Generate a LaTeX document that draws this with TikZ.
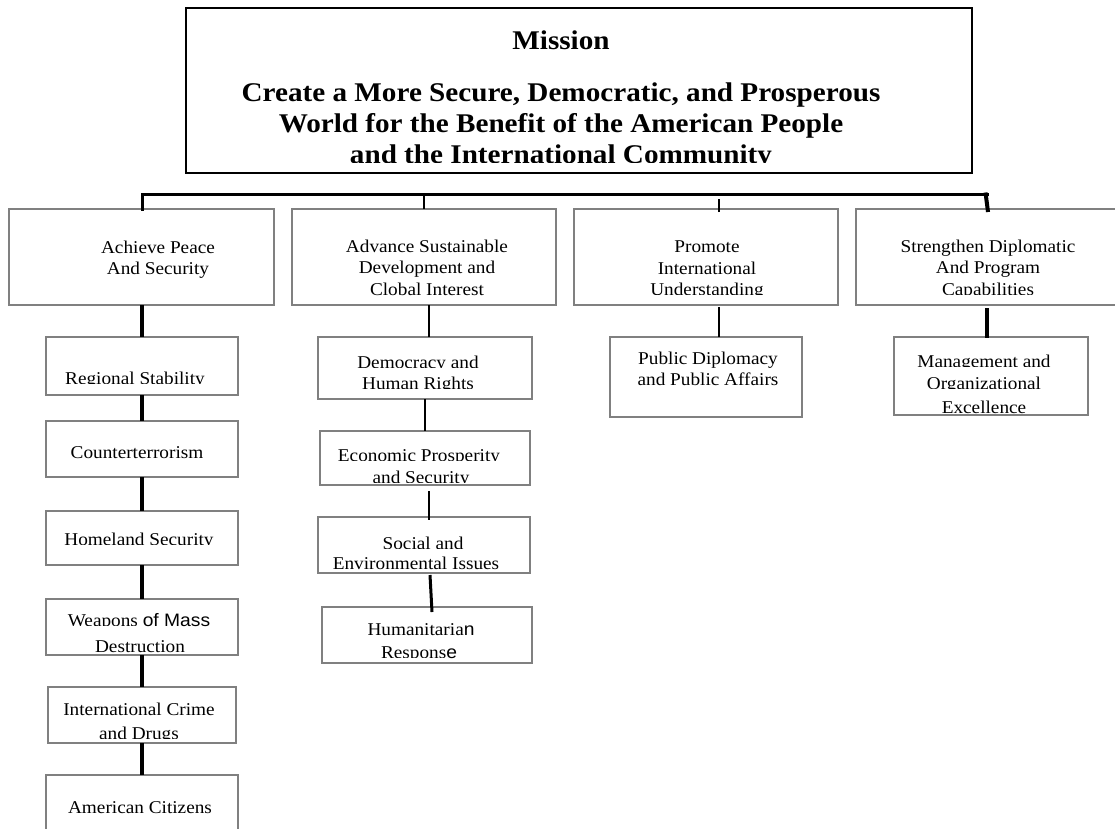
\documentclass[tikz,border=0pt]{standalone}
\usepackage{fontspec}
\setmainfont{Liberation Serif}
\newfontfamily\bodyfont[FakeStretch=1.07]{Liberation Serif}
\newfontfamily\titlefont[FakeStretch=1.08]{Liberation Serif}
\newfontfamily\sansbit[FakeStretch=1.07]{Liberation Sans}
\usetikzlibrary{calc}
\newcommand\cutd[1]{\setbox0\hbox{#1}\rlap{\copy0}{\color{white}\rule[-0.3em]{\wd0}{0.3em}}}
\newcount\lnc
\newcommand\Ln[3]{\global\advance\lnc by 1\relax\node[txt] (ln\the\lnc) at (#1,#2) {#3};}
\newcommand\Tl[3]{\global\advance\lnc by 1\relax\node[ttl] (ln\the\lnc) at (#1,#2) {#3};}
\definecolor{boxgray}{RGB}{128,128,128}
\tikzset{
  box/.style={draw=boxgray,line width=1.6pt,inner sep=0pt,outer sep=0pt},
  txt/.style={inner sep=0pt,anchor=base,font=\bodyfont\fontsize{18}{21}\selectfont},
  ttl/.style={inner sep=0pt,anchor=base,font=\titlefont\bfseries\fontsize{27}{32}\selectfont},
  bus/.style={line width=3pt,line cap=rect},
  cthick/.style={line width=4pt},
  cmid/.style={line width=2.5pt},
  tick/.style={line width=1.5pt}
}
\begin{document}
\begin{tikzpicture}[x=1pt,y=-1pt]
\useasboundingbox (0,0) rectangle (1115,828);
% ---- texts ----
\Tl{561}{49}{Mission}
\Tl{561}{101}{Create a More Secure, Democratic, and Prosperous}
\Tl{561}{132}{World for the Benefit of the American People}
\Tl{561}{163}{\cutd{and the International Community}}
\Ln{158}{253}{Achieve Peace}
\Ln{158}{274}{And Security}
\Ln{427}{252}{Advance Sustainable}
\Ln{427}{273}{Development and}
\Ln{427}{295}{Clobal Interest}
\Ln{707}{252}{Promote}
\Ln{707}{274}{International}
\Ln{707}{295}{\cutd{Understanding}}
\Ln{988}{252}{Strengthen Diplomatic}
\Ln{988}{273}{And Program}
\Ln{988}{295}{\cutd{Capabilities}}
\Ln{135}{384}{\cutd{Regional Stability}}
\Ln{137}{458}{Counterterrorism}
\Ln{139}{545}{\cutd{Homeland Security}}
\Ln{139}{626}{\cutd{Weapons} {\sansbit of Mass}}
\Ln{140}{652}{Destruction}
\Ln{139}{715}{International Crime}
\Ln{139}{739}{\cutd{and Drugs}}
\Ln{140}{813}{American Citizens}
\Ln{418}{368}{\cutd{Democracy and}}
\Ln{418}{389}{\cutd{Human Rights}}
\Ln{419}{461}{\cutd{Economic Prosperity}}
\Ln{421}{483}{\cutd{and Security}}
\Ln{423}{549}{\cutd{Social and}}
\Ln{416}{569}{Environmental Issues}
\Ln{421}{635}{Humanitaria{\sansbit n}}
\Ln{419}{658}{\cutd{Respons}{\sansbit e}}
\Ln{708}{364}{Public Diplomacy}
\Ln{708}{385}{and Public Affairs}
\Ln{984}{367}{\cutd{Management and}}
\Ln{984}{389}{\cutd{Organizational}}
\Ln{984}{413}{Excellence}
% ---- boxes ----
\node[box,draw=black,line width=1.8pt,minimum width=786pt,minimum height=165pt] (mission) at (579,90.5) {};
\node[box,minimum width=265pt,minimum height=96pt] (g1) at (141.5,257) {};
\node[box,minimum width=264pt,minimum height=96pt] (g2) at (424,257) {};
\node[box,minimum width=264pt,minimum height=96pt] (g3) at (706,257) {};
\node[box,minimum width=269pt,minimum height=96pt] (g4) at (990.5,257) {};
\node[box,minimum width=192pt,minimum height=58pt] (rs) at (142,366) {};
\node[box,minimum width=192pt,minimum height=56pt] (ct) at (142,449) {};
\node[box,minimum width=192pt,minimum height=54pt] (hs) at (142,538) {};
\node[box,minimum width=192pt,minimum height=56pt] (wmd) at (142,627) {};
\node[box,minimum width=188pt,minimum height=56pt] (icd) at (142,715) {};
\node[box,minimum width=192pt,minimum height=65pt] (ac) at (142,807.5) {};
\node[box,minimum width=214pt,minimum height=62pt] (dem) at (425,368) {};
\node[box,minimum width=210pt,minimum height=54pt] (econ) at (425,458) {};
\node[box,minimum width=212pt,minimum height=56pt] (soc) at (424,545) {};
\node[box,minimum width=210pt,minimum height=56pt] (hum) at (427,635) {};
\node[box,minimum width=192pt,minimum height=80pt] (pd) at (706,377) {};
\node[box,minimum width=194pt,minimum height=78pt] (mgmt) at (991,376) {};
% ---- connectors ----
\coordinate (bl) at (142,194);
\coordinate (br) at (987,194);
\draw[bus] (g1.north -| bl) -- (bl) -- (br);
\draw[cthick] ($(br)+(-1.5,-1.5)$) -- ($(g4.north -| br)+(1,3)$);
\draw[tick] (g2.north) -- (g2.north |- bl);
\draw[tick] ($(g3.north)+(13,3)$) -- ($(g3.north)+(13,-10)$);
\draw[cthick] (g1.south -| rs.north) -- (rs.north);
\draw[cthick] (rs.south) -- (ct.north);
\draw[cthick] (ct.south) -- (hs.north);
\draw[cthick] (hs.south) -- (wmd.north);
\draw[cthick] (wmd.south) -- (icd.north);
\draw[cthick] (icd.south) -- (ac.north);
\draw[cmid] ($(g2.south)+(5,0)$) -- ($(g2.south |- dem.north)+(5,0)$);
\draw[cmid] (dem.south) -- (dem.south |- econ.north);
\draw[cmid] ($(econ.south)+(4,6)$) -- ($(econ.south |- soc.north)+(4,3)$);
\draw[line width=3pt] ($(soc.south)+(6,2)$) -- ($(hum.north)+(5,5)$);
\draw[cmid] ($(g3.south)+(13,2)$) -- ($(g3.south |- pd.north)+(13,0)$);
\draw[cthick] ($(g4.south -| br)+(0,3)$) -- ($(mgmt.north -| br)+(0,1)$);
\end{tikzpicture}
\end{document}
